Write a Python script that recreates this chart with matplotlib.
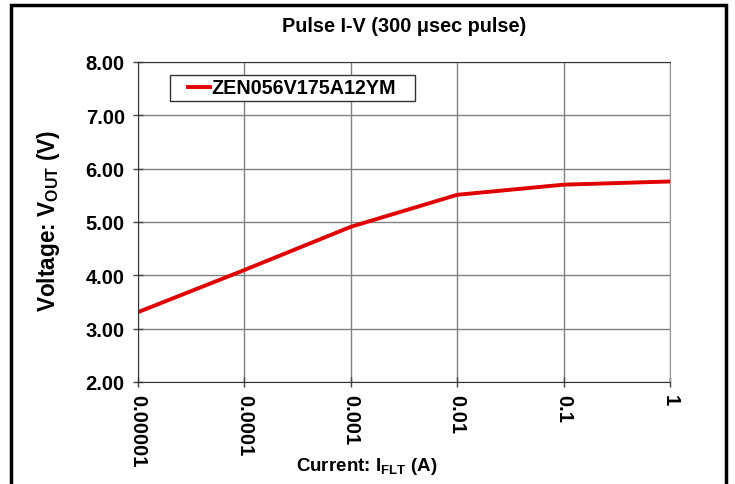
import matplotlib
matplotlib.use("Agg")
import matplotlib.pyplot as plt
from matplotlib.patches import Rectangle
from matplotlib import font_manager

current = [0.00001, 0.0001, 0.001, 0.01, 0.1, 1]
voltage = [3.31, 4.10, 4.91, 5.51, 5.70, 5.76]
xtick_vals = [0.00001, 0.0001, 0.001, 0.01, 0.1, 1]
xtick_labels = ["0.00001", "0.0001", "0.001", "0.01", "0.1", "1"]
ytick_vals = [2, 3, 4, 5, 6, 7, 8]
ytick_labels = ["2.00", "3.00", "4.00", "5.00", "6.00", "7.00", "8.00"]
series_name = "ZEN056V175A12YM"

names = {f.name for f in font_manager.fontManager.ttflist}
narrow = 'Liberation Sans Narrow' if 'Liberation Sans Narrow' in names else 'Liberation Sans'

plt.rcParams['font.family'] = ['Liberation Sans', 'DejaVu Sans']
plt.rcParams['font.weight'] = 'bold'
plt.rcParams['mathtext.fontset'] = 'custom'
plt.rcParams['mathtext.rm'] = 'Liberation Sans:bold'
plt.rcParams['mathtext.bf'] = 'Liberation Sans:bold'
plt.rcParams['mathtext.it'] = 'Liberation Sans:bold'

fig = plt.figure(figsize=(7.35, 4.85), dpi=100)
ax = fig.add_axes([138/735, 1-383/485, (670-138)/735, (383-63)/485])

ax.plot(current, voltage, color='#e00000', lw=2.8, label=series_name, solid_joinstyle='round')
ax.set_xscale('log')
ax.set_xlim(0.00001, 1)
ax.set_ylim(2, 8)
ax.set_xticks(xtick_vals)
ax.set_xticklabels(xtick_labels, rotation=270, fontsize=14.5, fontweight='bold')
ax.minorticks_off()
ax.set_yticks(ytick_vals)
ax.set_yticklabels(ytick_labels, fontsize=14.5, fontweight='bold')
ax.tick_params(axis='both', direction='inout', length=7, width=1, color='#444444', pad=5)
ax.tick_params(axis='y', pad=6)
ax.grid(True, color='#808080', lw=1)
for s in ['left', 'bottom', 'top']:
    ax.spines[s].set_color('#333333')
ax.spines['right'].set_color('#999999')

ax.set_title("Pulse I-V (300 \u03bcsec pulse)", fontsize=14.3, fontweight='bold', pad=22)
if narrow != 'Liberation Sans':
    plt.rcParams['mathtext.rm'] = narrow + ':bold'
    plt.rcParams['mathtext.bf'] = narrow + ':bold'
ax.set_xlabel(r"Current: I$_{\mathbf{FLT}}$ (A)", fontsize=15 if narrow != 'Liberation Sans' else 13.5,
              fontweight='bold', family=[narrow, 'DejaVu Sans'])
plt.rcParams['mathtext.rm'] = 'Liberation Sans:bold'
plt.rcParams['mathtext.bf'] = 'Liberation Sans:bold'
ax.xaxis.set_label_coords((367-138)/532, (383-467)/320)
ax.xaxis.label.set_va('center')
ax.set_ylabel(r"Voltage: V$_{\mathbf{OUT}}$ (V)", fontsize=16.3, fontweight='bold')
ax.yaxis.set_label_coords((49-138)/532, (383-221)/320)
ax.yaxis.label.set_va('center')

leg = ax.legend(loc='center left', bbox_to_anchor=((190-138)/532 - 0.004, (383-89)/320), frameon=False,
                handlelength=1.1, handletextpad=0.1, borderpad=0.0, borderaxespad=0.0,
                prop={'weight': 'bold', 'size': 14.2})
ax.add_patch(Rectangle(((170-138)/532, (383-102)/320), (415-170)/532, 26/320, transform=ax.transAxes,
                       fill=True, facecolor='white', edgecolor='#333333', lw=1, zorder=4))
leg.set_zorder(5)

fig.patches.append(Rectangle((11/735, -0.05), (726-11)/735, 1.05-6/485, transform=fig.transFigure,
                             fill=False, edgecolor='black', lw=2.5, clip_on=False))

fig.savefig("out.png", dpi=100)
